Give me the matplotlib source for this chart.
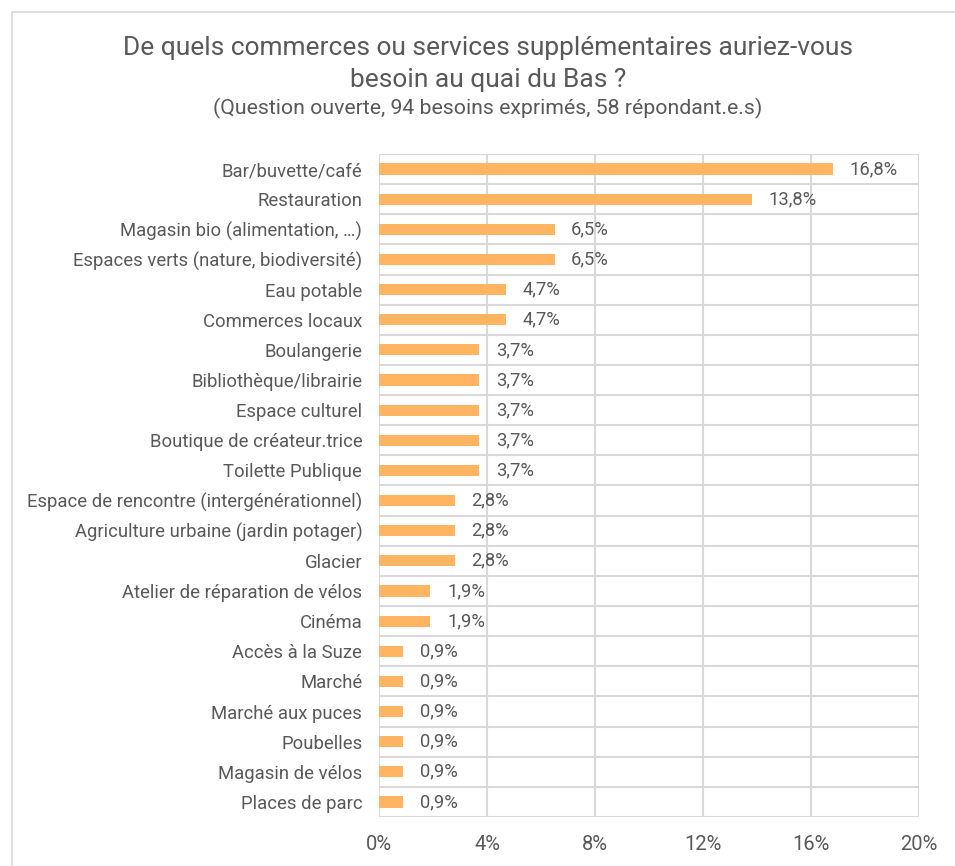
import matplotlib.pyplot as plt
from matplotlib.patches import Rectangle

plt.rcParams['font.family'] = ['Roboto', 'DejaVu Sans']

categories = [
    "Bar/buvette/café", "Restauration", "Magasin bio (alimentation, …)",
    "Espaces verts (nature, biodiversité)", "Eau potable", "Commerces locaux",
    "Boulangerie", "Bibliothèque/librairie", "Espace culturel",
    "Boutique de créateur.trice", "Toilette Publique",
    "Espace de rencontre (intergénérationnel)",
    "Agriculture urbaine (jardin potager)", "Glacier",
    "Atelier de réparation de vélos", "Cinéma", "Accès à la Suze", "Marché",
    "Marché aux puces", "Poubelles", "Magasin de vélos", "Places de parc",
]
values = [16.8, 13.8, 6.5, 6.5, 4.7, 4.7, 3.7, 3.7, 3.7, 3.7, 3.7,
          2.8, 2.8, 2.8, 1.9, 1.9, 0.9, 0.9, 0.9, 0.9, 0.9, 0.9]
xticks = [0, 4, 8, 12, 16, 20]

text_color = '#595959'
grid_color = '#d9d9d9'
bar_color = '#ffb462'

fig = plt.figure(figsize=(9.55, 8.66), dpi=100)
ax = fig.add_axes([379 / 955, 1 - 817 / 866, (919 - 379) / 955, (817 - 154) / 866])

n = len(categories)
ypos = list(range(n))
ax.barh(ypos, values, height=0.37, color=bar_color, zorder=3)
for y, v in zip(ypos, values):
    ax.text(v + 0.62, y, f"{v:.1f}%".replace('.', ','), va='center', ha='left',
            fontsize=13.2, color=text_color)

ax.set_ylim(n - 0.5, -0.5)
ax.set_xlim(0, 20)
ax.set_yticks(ypos)
ax.set_yticklabels(categories, fontsize=13.3, color=text_color)
ax.set_xticks(xticks)
ax.set_xticklabels([f"{t}%" for t in xticks], fontsize=14.5, color=text_color)
ax.tick_params(axis='both', length=0)
ax.tick_params(axis='y', pad=12)
ax.tick_params(axis='x', pad=13)

for t in xticks:
    ax.axvline(t, color=grid_color, lw=1.5, zorder=1)
for b in range(n + 1):
    ax.axhline(b - 0.5, color=grid_color, lw=1.5, zorder=1)
for s in ax.spines.values():
    s.set_visible(False)

cx = 488 / 955
fig.text(cx, 1 - 48 / 866, "De quels commerces ou services supplémentaires auriez-vous",
         ha='center', va='center', fontsize=19, color=text_color)
fig.text(cx, 1 - 80 / 866, "besoin au quai du Bas ?",
         ha='center', va='center', fontsize=19, color=text_color)
fig.text(cx, 1 - 108 / 866, "(Question ouverte, 94 besoins exprimés, 58 répondant.e.s)",
         ha='center', va='center', fontsize=15.3, color=text_color)

fig.patches.append(Rectangle((12 / 955, -0.01), 1.0, 1 - 12 / 866 + 0.01,
                             transform=fig.transFigure, fill=False,
                             edgecolor=grid_color, lw=1.2))

fig.savefig("out.png", dpi=100)
